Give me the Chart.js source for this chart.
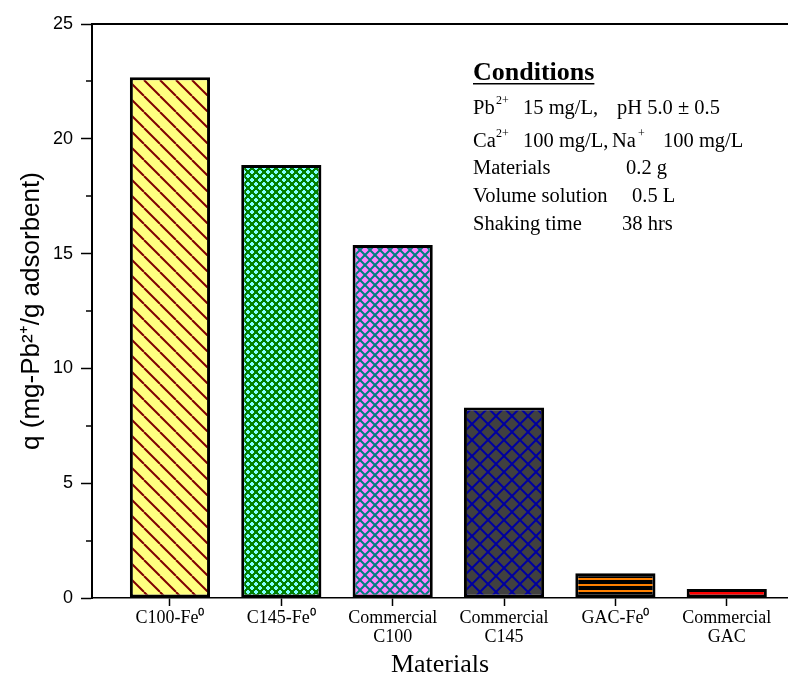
<!DOCTYPE html>
<html lang="en">
<head>
<meta charset="UTF-8">
<title>Pb uptake by material</title>
<script src="https://cdn.jsdelivr.net/npm/chart.js"></script>
<style>
  body { margin: 0; background: #ffffff; }
</style>
</head>
<body>
<canvas id="chart" width="788" height="681"></canvas>
<script>
// data
const materials = [['C100-Fe⁰'], ['C145-Fe⁰'], ['Commercial', 'C100'], ['Commercial', 'C145'], ['GAC-Fe⁰'], ['Commercial', 'GAC']];
const positions = [1, 2, 3, 4, 5, 6];
const uptake = [22.68, 18.86, 15.37, 8.3, 1.08, 0.39];
const yTicks = [0, 5, 10, 15, 20, 25];
const yMinorTicks = [2.5, 7.5, 12.5, 17.5, 22.5];

const conditionsTitle = 'Conditions';
// [x, text, superscript?]
const conditionRows = [
  [[473, 'Pb'], [496, '2+', true], [523, '15 mg/L,'], [617, 'pH 5.0 ± 0.5']],
  [[473, 'Ca'], [496, '2+', true], [523, '100 mg/L,'], [612, 'Na'], [638, '+', true], [663, '100 mg/L']],
  [[473, 'Materials'], [626, '0.2 g']],
  [[473, 'Volume solution'], [632, '0.5 L']],
  [[473, 'Shaking time'], [622, '38 hrs']]
];
const rowBaselines = [114, 147, 174, 202, 230];

const serif = '"Liberation Serif", "Times New Roman", serif';
const sans = '"Liberation Sans", Arial, sans-serif';

function tile(w, h, bg, draw) {
  const c = document.createElement('canvas');
  c.width = w; c.height = h;
  const g = c.getContext('2d');
  g.fillStyle = bg;
  g.fillRect(0, 0, w, h);
  draw(g, w, h);
  return g.createPattern(c, 'repeat');
}

function lines(g, s, dir) {
  for (const o of [-s, 0, s]) {
    g.beginPath();
    if (dir === '\\') { g.moveTo(o, 0); g.lineTo(o + s, s); }
    else { g.moveTo(o, s); g.lineTo(o + s, 0); }
    g.stroke();
  }
}

const fills = [
  tile(16, 16, '#ffff80', (g, s) => { g.strokeStyle = '#800000'; g.lineWidth = 2; lines(g, s, '\\'); }),
  tile(8, 8, '#008000', (g, s) => {
    g.fillStyle = '#80ffff';
    for (const [cx, cy] of [[4, 4], [0, 0], [8, 0], [0, 8], [8, 8]]) {
      g.fillRect(cx - 1, cy - 2, 2, 4);
      g.fillRect(cx - 2, cy - 1, 4, 2);
    }
  }),
  tile(10, 10, '#ff80ff', (g, s) => { g.strokeStyle = '#008080'; g.lineWidth = 2; lines(g, s, '\\'); lines(g, s, '/'); }),
  tile(16, 16, '#404040', (g, s) => { g.strokeStyle = '#0000a0'; g.lineWidth = 2; lines(g, s, '\\'); lines(g, s, '/'); }),
  tile(6, 6, '#000000', (g) => { g.fillStyle = '#ff8000'; g.fillRect(0, 2, 6, 2); }),
  '#ff0000'
];

const extras = {
  id: 'extras',
  afterDraw(chart) {
    const ctx = chart.ctx;
    const y = chart.scales.y;
    ctx.save();
    // minor ticks on the y axis
    ctx.strokeStyle = '#000';
    ctx.lineWidth = 1.5;
    yMinorTicks.forEach(v => {
      const py = Math.round(y.getPixelForValue(v));
      ctx.beginPath();
      ctx.moveTo(y.right - 6, py);
      ctx.lineTo(y.right, py);
      ctx.stroke();
    });
    // conditions box text
    ctx.fillStyle = '#000';
    ctx.textBaseline = 'alphabetic';
    ctx.textAlign = 'left';
    ctx.font = 'bold 26px ' + serif;
    ctx.fillText(conditionsTitle, 473, 80);
    const w = ctx.measureText(conditionsTitle).width;
    ctx.fillRect(473, 83, w, 1.5);
    conditionRows.forEach((row, i) => {
      row.forEach(([x, text, sup]) => {
        ctx.font = (sup ? 12 : 20.5) + 'px ' + serif;
        ctx.fillText(text, x, rowBaselines[i] - (sup ? 10 : 0));
      });
    });
    ctx.restore();
  }
};

new Chart(document.getElementById('chart'), {
  type: 'bar',
  data: {
    datasets: [{
      data: uptake.map((v, i) => ({ x: positions[i], y: v })),
      backgroundColor: fills,
      borderColor: '#000',
      borderWidth: 3,
      borderSkipped: false,
      barPercentage: 0.72,
      categoryPercentage: 1
    }]
  },
  options: {
    responsive: false,
    animation: false,
    layout: { padding: 0 },
    plugins: { legend: { display: false }, tooltip: { enabled: false } },
    scales: {
      x: {
        type: 'linear',
        min: 0.3,
        max: 6.55,
        offset: false,
        afterBuildTicks: s => { s.ticks = positions.map(v => ({ value: v })); },
        afterFit: s => { s.height = 83; },
        border: { color: '#000', width: 1.5 },
        grid: { offset: false, drawOnChartArea: false, tickLength: 8, tickColor: '#000', tickWidth: 1.5 },
        ticks: {
          autoSkip: false,
          maxRotation: 0,
          padding: 2,
          color: '#000',
          font: { family: serif, size: 18, lineHeight: 1.1 },
          callback: v => materials[positions.indexOf(v)]
        },
        title: { display: true, text: 'Materials', color: '#000', font: { family: serif, size: 26 }, padding: 0 }
      },
      x2: {
        type: 'linear',
        position: 'top',
        afterFit: s => { s.height = 24; },
        border: { color: '#000', width: 2 },
        grid: { drawOnChartArea: false, drawTicks: false },
        ticks: { display: false }
      },
      y: {
        min: 0,
        max: 25,
        afterBuildTicks: s => { s.ticks = yTicks.map(v => ({ value: v })); },
        afterFit: s => { s.width = 92; },
        border: { color: '#000', width: 2 },
        grid: { drawOnChartArea: false, tickLength: 11, tickColor: '#000', tickWidth: 1.5 },
        ticks: { color: '#000', padding: 8, font: { family: sans, size: 18 } },
        title: { display: true, text: 'q (mg-Pb²⁺/g adsorbent)', color: '#000', font: { family: sans, size: 26 }, padding: { top: 16 } }
      }
    }
  },
  plugins: [extras]
});
</script>
</body>
</html>
